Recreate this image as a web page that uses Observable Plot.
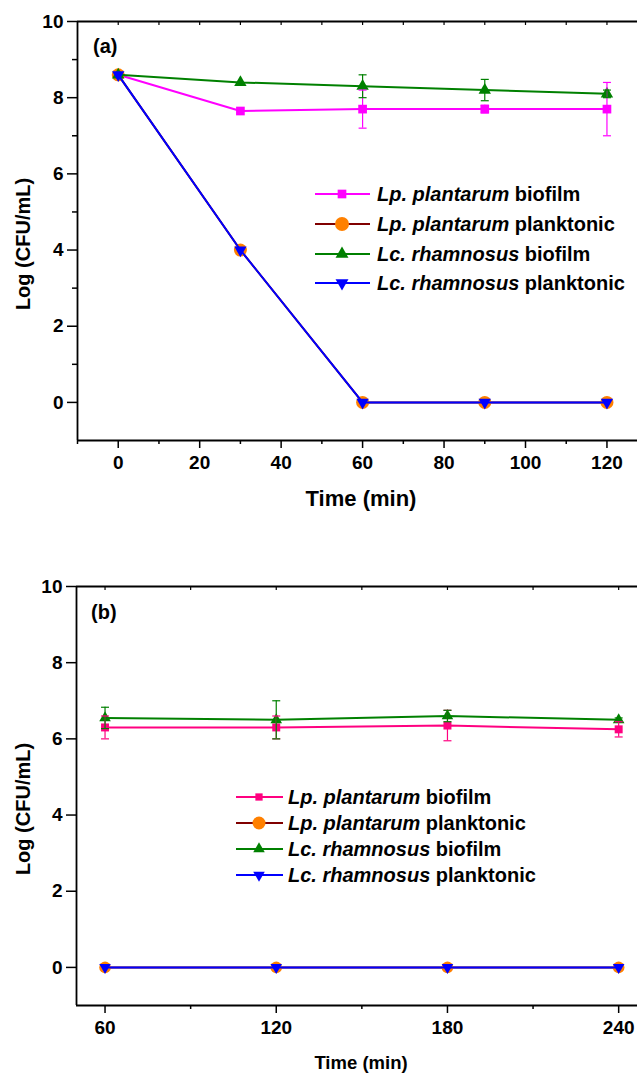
<!DOCTYPE html>
<html><head><meta charset="utf-8">
<script src="https://cdn.jsdelivr.net/npm/d3@7"></script>
<script src="https://cdn.jsdelivr.net/npm/@observablehq/plot@0.6"></script>
<style>
body{margin:0;background:#fff}
#wrap{position:relative;width:637px;height:1076px;overflow:hidden;background:#fff}
#wrap svg{position:absolute;left:0}
</style>
</head><body><div id="wrap"></div>
<script>
// ---------- data ----------
const timeA = [0, 30, 60, 90, 120];
const lpBiofilmA = [8.6, 7.65, 7.7, 7.7, 7.7];
const lpBiofilmErrA = [0, 0, 0.5, 0.1, 0.7];
const lpPlanktonicA = [8.6, 4.0, 0, 0, 0];
const lcBiofilmA = [8.6, 8.4, 8.3, 8.2, 8.1];
const lcBiofilmErrA = [0, 0, 0.3, 0.28, 0.1];
const lcPlanktonicA = [8.6, 4.0, 0, 0, 0];

const timeB = [60, 120, 180, 240];
const lpBiofilmB = [6.3, 6.3, 6.35, 6.25];
const lpBiofilmErrB = [0.3, 0.3, 0.4, 0.2];
const lpPlanktonicB = [0, 0, 0, 0];
const lcBiofilmB = [6.55, 6.5, 6.6, 6.5];
const lcBiofilmErrB = [0.28, 0.5, 0.15, 0.05];
const lcPlanktonicB = [0, 0, 0, 0];

const yTicks = [0, 2, 4, 6, 8, 10];
const yMinorTicksA = [1, 3, 5, 7, 9];
const xTicksA = [0, 20, 40, 60, 80, 100, 120];
const xMinorTicksA = [-10, 10, 30, 50, 70, 90, 110];
const xTopTicksA = [0, 10, 20, 30, 40, 50, 60, 70, 80, 90, 100, 110, 120];
const xTicksB = [60, 120, 180, 240];
const xMinorTicksB = [90, 150, 210];
const xTopTicksB = [60, 90, 120, 150, 180, 210, 240];

const speciesItalic = ["Lp. plantarum", "Lp. plantarum", "Lc. rhamnosus", "Lc. rhamnosus"];
const speciesState = ["biofilm", "planktonic", "biofilm", "planktonic"];
const yTitle = "Log (CFU/mL)";
const xTitle = "Time (min)";

// ---------- symbols ----------
const sqrt3 = Math.sqrt(3);
const triangleDown = {draw(ctx, size) {
  const y = -Math.sqrt(size / (sqrt3 * 3));
  ctx.moveTo(0, -y * 2); ctx.lineTo(-sqrt3 * y, y); ctx.lineTo(sqrt3 * y, y); ctx.closePath();
}};
const capSymbol = {draw(ctx, size) {
  const r = Math.sqrt(size / Math.PI);
  ctx.moveTo(-r, 0); ctx.lineTo(r, 0);
}};

const FONT = "'Liberation Sans', Arial, Helvetica, sans-serif";

function panel(cfg) {
  const marks = [];
  const x0 = cfg.xDomain[0];
  // axes
  marks.push(Plot.axisY({ticks: yTicks, tickSize: 10, tickPadding: 4, label: null, strokeWidth: 1.5, fontSize: 19}));
  if (cfg.yMinor.length) marks.push(Plot.axisY({ticks: cfg.yMinor, tickSize: 5, tickFormat: () => "", label: null, strokeWidth: 1.5}));
  marks.push(Plot.axisX({ticks: cfg.xTicks, tickSize: 8, tickPadding: 7, label: null, strokeWidth: 1.5, fontSize: 19}));
  marks.push(Plot.axisX({ticks: cfg.xMinor, tickSize: 4, tickFormat: () => "", label: null, strokeWidth: 1.5}));
  marks.push(Plot.axisX({anchor: "top", ticks: cfg.xTop, tickSize: -3, tickFormat: () => "", label: null, strokeWidth: 1.2}));
  // frame
  marks.push(Plot.ruleX([x0], {stroke: "black", strokeWidth: 1.8}));
  marks.push(Plot.ruleY([-1], {stroke: "black", strokeWidth: 1.8}));
  marks.push(Plot.ruleY([10], {stroke: "black", strokeWidth: 1.8}));
  // series
  const errRows = [];
  cfg.series.forEach(s => {
    const rows = cfg.time.map((t, i) => ({x: t, y: s.values[i]}));
    marks.push(Plot.line(rows, {x: "x", y: "y", stroke: s.line, strokeWidth: 2}));
    marks.push(Plot.dot(rows, {x: "x", y: "y", symbol: s.symbol, r: s.r, fill: s.fill, stroke: "none"}));
    if (s.err) cfg.time.forEach((t, i) => {
      if (s.err[i] > 0) errRows.push({x: t, lo: s.values[i] - s.err[i], hi: s.values[i] + s.err[i], c: s.line});
    });
  });
  marks.push(Plot.ruleX(errRows, {x: "x", y1: "lo", y2: "hi", stroke: "c", strokeWidth: 1.2}));
  marks.push(Plot.dot(errRows, {x: "x", y: "lo", symbol: capSymbol, r: 4, stroke: "c", fill: "none", strokeWidth: 1.2}));
  marks.push(Plot.dot(errRows, {x: "x", y: "hi", symbol: capSymbol, r: 4, stroke: "c", fill: "none", strokeWidth: 1.2}));

  const svg = Plot.plot({
    width: 637, height: cfg.height,
    marginLeft: cfg.marginLeft, marginRight: 0, marginTop: cfg.marginTop, marginBottom: cfg.marginBottom,
    x: {domain: cfg.xDomain},
    y: {domain: [-1, 10]},
    color: {type: "identity"},
    style: {fontFamily: FONT, fontSize: "19px", fontWeight: "bold", color: "black", background: "transparent", overflow: "visible"},
    marks
  });
  svg.style.top = cfg.top + "px";
  return svg;
}

const wrap = document.getElementById("wrap");

const panelA = {
  time: timeA, xDomain: [-10, 127.5], height: 540, top: 0,
  marginLeft: 77, marginTop: 21, marginBottom: 100,
  xTicks: xTicksA, xMinor: xMinorTicksA, xTop: xTopTicksA, yMinor: yMinorTicksA,
  series: [
    {values: lpBiofilmA, err: lpBiofilmErrA, line: "#ff00ff", fill: "#ff00ff", symbol: "square", r: 4.9},
    {values: lpPlanktonicA, line: "#800000", fill: "#ff8000", symbol: "circle", r: 6.5},
    {values: lcBiofilmA, err: lcBiofilmErrA, line: "#008000", fill: "#008000", symbol: "triangle", r: 4.6},
    {values: lcPlanktonicA, line: "#0000ff", fill: "#0000ff", symbol: triangleDown, r: 4.6}
  ]
};
const panelB = {
  time: timeB, xDomain: [50, 246.6], height: 536, top: 540,
  marginLeft: 76, marginTop: 46, marginBottom: 71,
  xTicks: xTicksB, xMinor: xMinorTicksB, xTop: xTopTicksB, yMinor: [],
  series: [
    {values: lpBiofilmB, err: lpBiofilmErrB, line: "#ff0080", fill: "#ff0080", symbol: "square", r: 4.5},
    {values: lpPlanktonicB, line: "#800000", fill: "#ff8000", symbol: "circle", r: 5.8},
    {values: lcBiofilmB, err: lcBiofilmErrB, line: "#008000", fill: "#008000", symbol: "triangle", r: 4.3},
    {values: lcPlanktonicB, line: "#0000ff", fill: "#0000ff", symbol: triangleDown, r: 4.3}
  ]
};

wrap.appendChild(panel(panelA));
wrap.appendChild(panel(panelB));

// ---------- overlay: titles, panel labels, legends ----------
const ov = d3.create("svg").attr("width", 637).attr("height", 1076)
  .style("top", "0px").style("pointer-events", "none")
  .attr("font-family", FONT).attr("font-weight", "bold").attr("fill", "black");

ov.append("text").attr("x", 93).attr("y", 53).attr("font-size", 20).text("(a)");
ov.append("text").attr("x", 91).attr("y", 619).attr("font-size", 20).text("(b)");
[[244], [809]].forEach(([cy]) => {
  ov.append("text").attr("transform", `translate(30,${cy}) rotate(-90)`).attr("text-anchor", "middle")
    .attr("font-size", 20).text(yTitle);
});
ov.append("text").attr("x", 361).attr("y", 506).attr("text-anchor", "middle").attr("font-size", 22).text(xTitle);
ov.append("text").attr("x", 361).attr("y", 1069).attr("text-anchor", "middle").attr("font-size", 18.5).text(xTitle);

function legend(cfg, L) {
  const symTypes = [d3.symbolSquare, d3.symbolCircle, d3.symbolTriangle, triangleDown];
  cfg.series.forEach((s, i) => {
    const y = L.rows[i];
    ov.append("line").attr("x1", L.x0).attr("x2", L.x1).attr("y1", y).attr("y2", y)
      .attr("stroke", s.line).attr("stroke-width", 2);
    const r = L.r[i];
    ov.append("path").attr("transform", `translate(${L.mx},${y})`)
      .attr("d", d3.symbol(symTypes[i], Math.PI * r * r)()).attr("fill", s.fill);
    const t = ov.append("text").attr("x", L.tx).attr("y", y + L.fs * 0.36).attr("font-size", L.fs);
    t.append("tspan").attr("font-style", "italic").text(speciesItalic[i]);
    t.append("tspan").text(" " + speciesState[i]);
  });
}
legend(panelA, {rows: [194, 224, 254, 283], x0: 315, x1: 370, mx: 342, tx: 377, fs: 20, r: [4.9, 7, 4.8, 4.8]});
legend(panelB, {rows: [797, 823, 849, 875], x0: 236, x1: 283, mx: 259, tx: 288, fs: 20, r: [4.1, 6.5, 4.3, 4.3]});

wrap.appendChild(ov.node());
</script>
</body></html>
